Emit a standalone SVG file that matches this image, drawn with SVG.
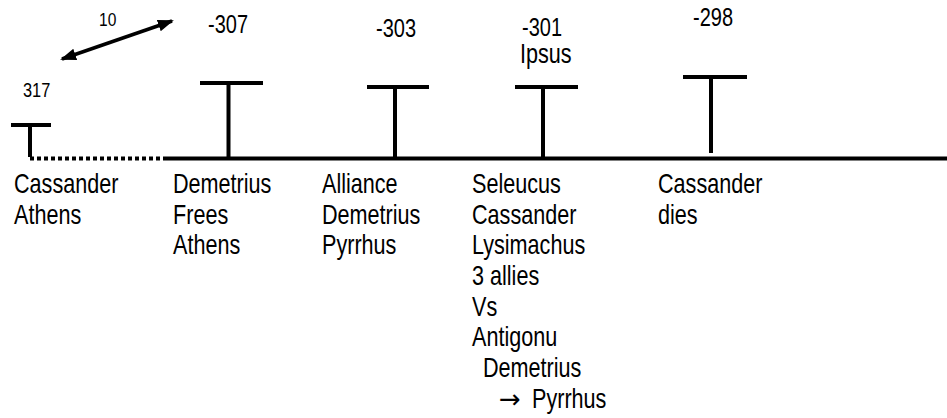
<svg xmlns="http://www.w3.org/2000/svg" width="947" height="418" viewBox="0 0 947 418">
<style>
text{font-family:"Liberation Sans",Arial,sans-serif;fill:#000}
.b{font-size:27px}
.n{font-size:25px}
.s{font-size:20px}
.t{font-size:19px}
.tk{stroke:#000;stroke-width:4;fill:none}
.arw{font-family:"DejaVu Sans",sans-serif;font-size:26px}
</style>
<defs>
<marker id="ah" viewBox="0 0 16 12" refX="14" refY="6" markerWidth="16" markerHeight="12" markerUnits="userSpaceOnUse" orient="auto-start-reverse">
<path d="M0,0 L16,6 L0,12 Z" fill="#000"/>
</marker>
</defs>
<rect width="947" height="418" fill="#fff"/>
<g id="connectors">
<line x1="165" y1="158.5" x2="947" y2="158.5" class="tk"/>
<line x1="30" y1="158.5" x2="165" y2="158.5" class="tk" stroke-dasharray="4 3"/>
<line x1="62" y1="59" x2="172" y2="21" stroke="#000" stroke-width="3.5" marker-start="url(#ah)" marker-end="url(#ah)"/>
<text class="t" transform="translate(99 26) scale(0.82 1)">10</text>
</g>
<g id="e317">
<line x1="11" y1="125" x2="51" y2="125" class="tk"/>
<line x1="30" y1="125" x2="30" y2="157" class="tk"/>
<text class="s" transform="translate(23 97) scale(0.82 1)">317</text>
<text class="b" transform="translate(14 193) scale(0.8 1)">Cassander<tspan x="0" dy="30.7">Athens</tspan></text>
</g>
<g id="e307">
<line x1="200" y1="83" x2="263" y2="83" class="tk"/>
<line x1="228.5" y1="83" x2="228.5" y2="158" class="tk"/>
<text class="n" transform="translate(208 33) scale(0.8 1)">-307</text>
<text class="b" transform="translate(173 193) scale(0.8 1)">Demetrius<tspan x="0" dy="30.7">Frees</tspan><tspan x="0" dy="30.7">Athens</tspan></text>
</g>
<g id="e303">
<line x1="367" y1="87" x2="429" y2="87" class="tk"/>
<line x1="395" y1="87" x2="395" y2="160" class="tk"/>
<text class="n" transform="translate(376 37) scale(0.8 1)">-303</text>
<text class="b" transform="translate(322 193) scale(0.8 1)">Alliance<tspan x="0" dy="30.7">Demetrius</tspan><tspan x="0" dy="30.7">Pyrrhus</tspan></text>
</g>
<g id="e301">
<line x1="515" y1="87" x2="578" y2="87" class="tk"/>
<line x1="543" y1="87" x2="543" y2="160" class="tk"/>
<text class="n" transform="translate(522 36) scale(0.8 1)">-301</text>
<text class="b" transform="translate(520 63) scale(0.8 1)">Ipsus</text>
<text class="b" transform="translate(472 193) scale(0.8 1)">Seleucus<tspan x="0" dy="30.7">Cassander</tspan><tspan x="0" dy="30.7">Lysimachus</tspan><tspan x="0" dy="30.7">3 allies</tspan><tspan x="0" dy="30.7">Vs</tspan><tspan x="0" dy="30.7">Antigonu</tspan><tspan x="13.75" dy="30.7">Demetrius</tspan></text>
<text class="arw" x="499" y="408">→</text>
<text class="b" transform="translate(532 408) scale(0.8 1)">Pyrrhus</text>
</g>
<g id="e298">
<line x1="683" y1="77" x2="747" y2="77" class="tk"/>
<line x1="711" y1="77" x2="711" y2="153" class="tk"/>
<text class="n" transform="translate(693 26) scale(0.8 1)">-298</text>
<text class="b" transform="translate(658 193) scale(0.8 1)">Cassander<tspan x="0" dy="30.7">dies</tspan></text>
</g>
</svg>
